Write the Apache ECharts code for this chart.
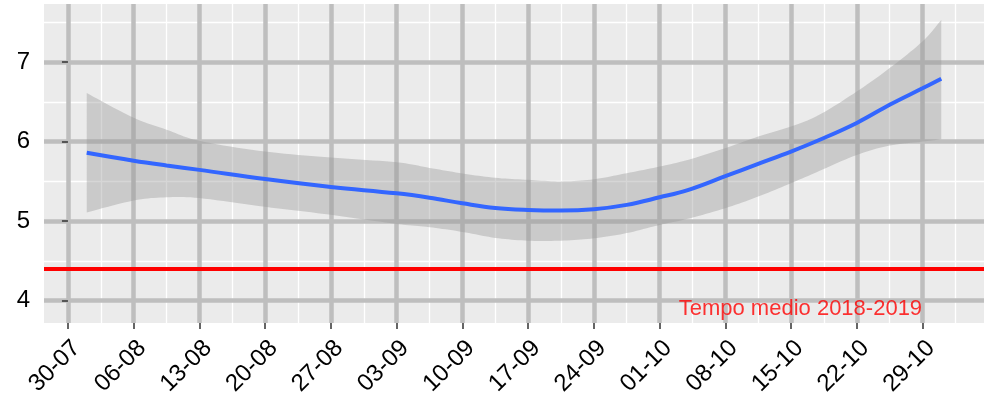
<!DOCTYPE html>
<html>
<head>
<meta charset="utf-8">
<script src="https://cdn.jsdelivr.net/npm/echarts@6/dist/echarts.min.js"></script>
<style>
  html, body { margin: 0; padding: 0; background: #fff; }
  #chart { width: 988px; height: 399px; }
</style>
</head>
<body>
<div id="chart"></div>
<script>
// giorni dal 30-07
var days = [2, 7, 10.5, 14, 21, 28, 35, 38.5, 42, 45.5, 49, 52.5, 56, 59.5, 63, 66, 70, 73.5, 77, 80, 84, 87.5, 91, 93]
var fit = [5.86, 5.76, 5.70, 5.645, 5.53, 5.43, 5.35, 5.295, 5.225, 5.165, 5.14, 5.133, 5.15, 5.205, 5.30, 5.39, 5.565, 5.72, 5.875, 6.02, 6.235, 6.463, 6.67, 6.79]
var lower = [5.11, 5.26, 5.30, 5.29, 5.18, 5.08, 4.965, 4.925, 4.865, 4.79, 4.755, 4.755, 4.785, 4.85, 4.953, 5.03, 5.163, 5.309, 5.477, 5.63, 5.833, 5.95, 6.00, 6.03]
var upper = [6.61, 6.30, 6.15, 6.01, 5.875, 5.80, 5.74, 5.67, 5.60, 5.545, 5.52, 5.50, 5.527, 5.603, 5.686, 5.77, 5.918, 6.064, 6.19, 6.337, 6.63, 6.924, 7.26, 7.53]

var xTickDays = [0, 7, 14, 21, 28, 35, 42, 49, 56, 63, 70, 77, 84, 91]
var xTickLabels = ['30-07', '06-08', '13-08', '20-08', '27-08', '03-09', '10-09', '17-09', '24-09', '01-10', '08-10', '15-10', '22-10', '29-10']
var xMinorDays = [3.5, 10.5, 17.5, 24.5, 31.5, 38.5, 45.5, 52.5, 59.5, 66.5, 73.5, 80.5, 87.5, 94.5]
var yTicks = [4, 5, 6, 7]
var yMinor = [4.5, 5.5, 6.5, 7.5]

var mediaValue = 4.4
var mediaLabel = 'Tempo medio 2018-2019'
var mediaLabelPos = [78, 3.9]

var xRange = [-2.55, 97.55]
var yRange = [3.72, 7.73]

// catmull-rom -> punti per il poligono della banda
function smoothPts(p) {
  var out = []
  for (var i = 0; i < p.length - 1; i++) {
    var p0 = p[i - 1] || p[i], p1 = p[i], p2 = p[i + 1], p3 = p[i + 2] || p[i + 1]
    var c1 = [p1[0] + (p2[0] - p0[0]) / 6, p1[1] + (p2[1] - p0[1]) / 6]
    var c2 = [p2[0] - (p3[0] - p1[0]) / 6, p2[1] - (p3[1] - p1[1]) / 6]
    for (var k = 0; k < 10; k++) {
      var t = k / 10, u = 1 - t
      out.push([
        u * u * u * p1[0] + 3 * u * u * t * c1[0] + 3 * u * t * t * c2[0] + t * t * t * p2[0],
        u * u * u * p1[1] + 3 * u * u * t * c1[1] + 3 * u * t * t * c2[1] + t * t * t * p2[1]
      ])
    }
  }
  out.push(p[p.length - 1])
  return out
}

var chart = echarts.init(document.getElementById('chart'))

var option = {
  animation: false,
  textStyle: { fontFamily: 'Liberation Sans, Arial, sans-serif' },
  grid: {
    left: 44, right: 4, top: 4, bottom: 76,
    show: true, backgroundColor: '#ebebeb', borderWidth: 0, z: 0
  },
  xAxis: [
    {
      type: 'value',
      min: xRange[0],
      max: xRange[1],
      z: 2,
      axisLine: { show: false },
      axisTick: {
        show: true, length: 6, customValues: xTickDays,
        lineStyle: { color: '#333', width: 1.5 }
      },
      axisLabel: {
        customValues: xTickDays,
        rotate: 45,
        align: 'right',
        verticalAlign: 'top',
        margin: 13,
        fontSize: 24,
        color: '#000',
        formatter: function (v) {
          var i = xTickDays.indexOf(v)
          return i >= 0 ? xTickLabels[i] : ''
        }
      },
      splitLine: { show: true, lineStyle: { color: '#bebebe', width: 4.5 } }
    },
    {
      type: 'value',
      min: xRange[0],
      max: xRange[1],
      z: 1,
      axisLine: { show: false },
      axisTick: { show: false, customValues: xMinorDays },
      axisLabel: { show: false, customValues: xMinorDays },
      splitLine: { show: true, lineStyle: { color: '#ffffff', width: 1.3 } }
    }
  ],
  yAxis: [
    {
      type: 'value',
      min: yRange[0],
      max: yRange[1],
      z: 2,
      axisLine: { show: false },
      axisTick: {
        show: true, length: 6, customValues: yTicks,
        lineStyle: { color: '#333', width: 1.5 }
      },
      axisLabel: { customValues: yTicks, margin: 14, fontSize: 24, color: '#000' },
      splitLine: { show: true, lineStyle: { color: '#bebebe', width: 4.5 } }
    },
    {
      type: 'value',
      min: yRange[0],
      max: yRange[1],
      z: 1,
      axisLine: { show: false },
      axisTick: { show: false, customValues: yMinor },
      axisLabel: { show: false, customValues: yMinor },
      splitLine: { show: true, lineStyle: { color: '#ffffff', width: 1.3 } }
    }
  ],
  series: [
    {
      name: 'ci',
      type: 'custom',
      z: 3,
      encode: { x: 0, y: [1, 2] },
      data: days.map(function (d, i) { return [d, lower[i], upper[i]] }),
      renderItem: function (params, api) {
        if (params.dataIndex !== 0) return
        var up = days.map(function (d, i) { return api.coord([d, upper[i]]) })
        var lo = days.map(function (d, i) { return api.coord([d, lower[i]]) }).reverse()
        return {
          type: 'polygon',
          shape: { points: smoothPts(up).concat(smoothPts(lo)) },
          style: { fill: 'rgba(153,153,153,0.4)' }
        }
      }
    },
    {
      name: 'fit',
      type: 'line',
      z: 5,
      smooth: 0.4,
      symbol: 'none',
      lineStyle: { color: '#3366ff', width: 4 },
      data: days.map(function (d, i) { return [d, fit[i]] }),
      markLine: {
        silent: true,
        symbol: 'none',
        label: { show: false },
        lineStyle: { color: '#ff0000', width: 4, type: 'solid' },
        data: [{ yAxis: mediaValue }]
      }
    },
    {
      name: 'label',
      type: 'scatter',
      z: 6,
      symbolSize: 0,
      label: {
        show: true,
        position: 'inside',
        formatter: mediaLabel,
        fontSize: 22,
        color: '#ff0000'
      },
      data: [mediaLabelPos]
    }
  ]
}

chart.setOption(option)
</script>
</body>
</html>
